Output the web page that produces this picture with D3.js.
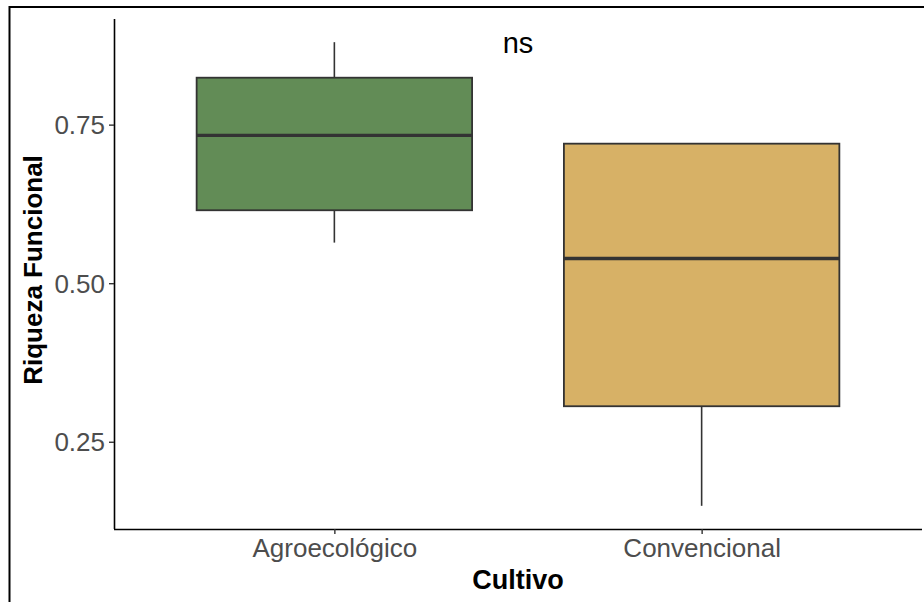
<!DOCTYPE html>
<html>
<head>
<meta charset="utf-8">
<script src="https://cdn.jsdelivr.net/npm/d3@7"></script>
<style>
  html, body { margin: 0; padding: 0; background: #fff; }
  svg { display: block; }
  text { font-family: "Liberation Sans", Arial, sans-serif; }
</style>
</head>
<body>
<svg id="chart" width="924" height="602"></svg>
<script>
// Functional richness by crop system (box-plot summaries)
const categories = ["Agroecológico", "Convencional"];
const lowerWhisker = [0.564, 0.149];
const q1 = [0.615, 0.306];
const median = [0.733, 0.539];
const q3 = [0.824, 0.720];
const upperWhisker = [0.880, 0.720];
const fills = ["#628c56", "#d7b166"];
const yTicks = [0.25, 0.50, 0.75];
const xTitle = "Cultivo";
const yTitle = "Riqueza Funcional";
const testLabel = "ns";

const svg = d3.select("#chart");
const W = 924, H = 602;
const panel = { left: 114, right: 922, top: 19, bottom: 529 };

// outer frame
svg.append("path")
  .attr("d", `M9.5,${H} V7 H${W}`)
  .attr("fill", "none").attr("stroke", "#000").attr("stroke-width", 2);

const lo = d3.min(lowerWhisker), hi = d3.max(upperWhisker);
const pad = (hi - lo) * 0.05;
const y = d3.scaleLinear().domain([lo - pad, hi + pad]).range([panel.bottom, panel.top]);
const x = d3.scalePoint().domain(categories).range([panel.left, panel.right]).padding(0.6);
const boxW = x.step() * 0.75;

const data = categories.map((c, i) => ({
  c, lw: lowerWhisker[i], q1: q1[i], med: median[i], q3: q3[i], uw: upperWhisker[i], fill: fills[i]
}));

const g = svg.append("g");
const box = g.selectAll("g.box").data(data).join("g").attr("class", "box");

// whiskers
box.append("line")
  .attr("x1", d => x(d.c)).attr("x2", d => x(d.c))
  .attr("y1", d => y(d.q3)).attr("y2", d => y(d.uw))
  .attr("stroke", "#333").attr("stroke-width", 1.6);
box.append("line")
  .attr("x1", d => x(d.c)).attr("x2", d => x(d.c))
  .attr("y1", d => y(d.q1)).attr("y2", d => y(d.lw))
  .attr("stroke", "#333").attr("stroke-width", 1.6);
// boxes
box.append("rect")
  .attr("x", d => x(d.c) - boxW / 2).attr("width", boxW)
  .attr("y", d => y(d.q3)).attr("height", d => y(d.q1) - y(d.q3))
  .attr("fill", d => d.fill).attr("stroke", "#333").attr("stroke-width", 1.8);
// medians
box.append("line")
  .attr("x1", d => x(d.c) - boxW / 2).attr("x2", d => x(d.c) + boxW / 2)
  .attr("y1", d => y(d.med)).attr("y2", d => y(d.med))
  .attr("stroke", "#333").attr("stroke-width", 3.4);

// axes
const yAxis = g.append("g").attr("transform", `translate(${panel.left},0)`)
  .call(d3.axisLeft(y).tickValues(yTicks).tickFormat(d3.format(".2f")).tickSize(5).tickPadding(4));
yAxis.select(".domain").attr("d", `M0.5,${panel.top}V${panel.bottom}`);

const xAxis = g.append("g").attr("transform", `translate(0,${panel.bottom})`)
  .call(d3.axisBottom(x).tickSize(5).tickPadding(5));
xAxis.select(".domain").attr("d", `M${panel.left},0.5H${panel.right}`);

[yAxis, xAxis].forEach(a => {
  a.select(".domain").attr("stroke", "#000").attr("stroke-width", 1.6);
  a.selectAll(".tick line").attr("stroke", "#333").attr("stroke-width", 1.4);
  a.selectAll(".tick text").attr("fill", "#4d4d4d")
    .style("font-size", "26px").style("font-family", "'Liberation Sans', Arial, sans-serif");
});
yAxis.selectAll(".tick text").attr("dy", "0.35em");

// titles
svg.append("text")
  .attr("x", (panel.left + panel.right) / 2).attr("y", 589)
  .attr("text-anchor", "middle").attr("font-weight", "bold").attr("font-size", 27)
  .attr("fill", "#000").text(xTitle);
svg.append("text")
  .attr("transform", `translate(42,${(panel.top + panel.bottom) / 2 - 4}) rotate(-90)`)
  .attr("text-anchor", "middle").attr("font-weight", "bold").attr("font-size", 26)
  .attr("fill", "#000").text(yTitle);
svg.append("text")
  .attr("x", (panel.left + panel.right) / 2).attr("y", 53)
  .attr("text-anchor", "middle").attr("font-size", 29)
  .attr("fill", "#000").text(testLabel);
</script>
</body>
</html>
